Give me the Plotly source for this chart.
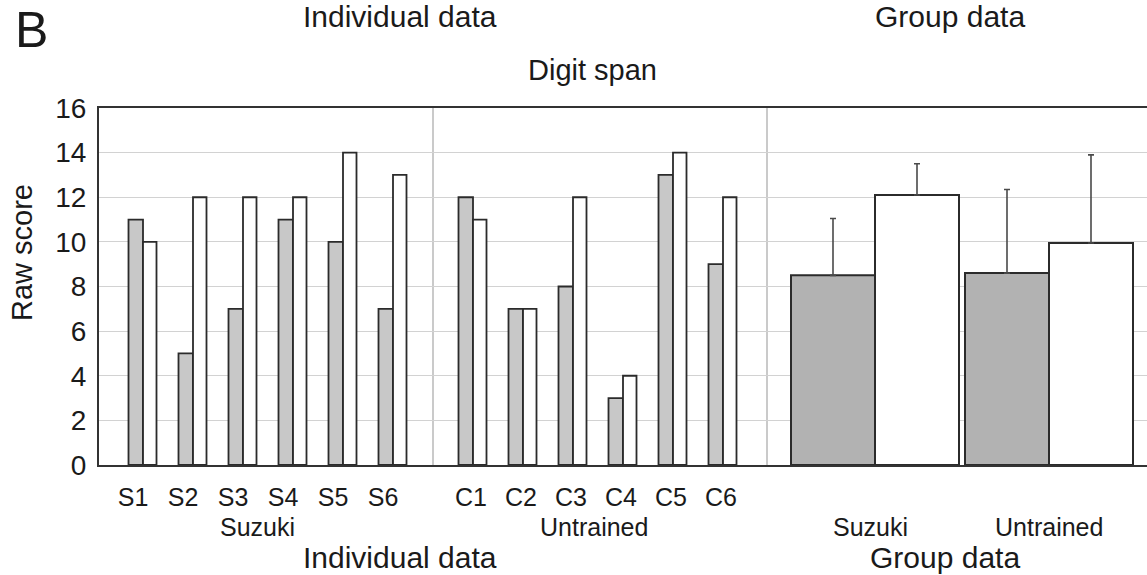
import plotly.graph_objects as go

# ---------------- data ----------------
suzuki_ids = ["S1", "S2", "S3", "S4", "S5", "S6"]
suzuki_pre = [11, 5, 7, 11, 10, 7]
suzuki_post = [10, 12, 12, 12, 14, 13]

untrained_ids = ["C1", "C2", "C3", "C4", "C5", "C6"]
untrained_pre = [12, 7, 8, 3, 13, 9]
untrained_post = [11, 7, 12, 4, 14, 12]

group_names = ["Suzuki", "Untrained"]
group_pre_mean = [8.5, 8.6]
group_pre_err = [2.55, 3.75]
group_post_mean = [12.1, 9.95]
group_post_err = [1.4, 3.95]

y_ticks = [0, 2, 4, 6, 8, 10, 12, 14, 16]

# ---------------- layout helpers ----------------
W, H = 1147, 575
L, T, B = 99, 108, 110
PW = W - L
PH = H - T - B
UNIT = 50.0                     # px per x unit
X0 = 0.12
X1 = X0 + PW / UNIT

def px_paper(px, py):
    return (px - L) / PW, (H - B - py) / PH

s_centers = [1 + i for i in range(len(suzuki_ids))]
c_centers = [7.6 + i for i in range(len(untrained_ids))]
sep1, sep2 = 6.8, 13.48
g_bounds = [15.64, 19.12]
gw = 1.68
iw_pre, iw_post = 0.29, 0.27

GRAY_I = "#c8c8c8"
GRAY_G = "#b2b2b2"
EDGE = "#2b2b2b"
FONT = "Liberation Sans, Arial, sans-serif"

fig = go.Figure()

# individual bars
for centers, pre, post in [(s_centers, suzuki_pre, suzuki_post),
                           (c_centers, untrained_pre, untrained_post)]:
    fig.add_trace(go.Bar(x=[c - iw_pre / 2 for c in centers], y=pre, width=iw_pre,
                         marker=dict(color=GRAY_I, line=dict(color=EDGE, width=1.8)),
                         showlegend=False, hoverinfo="skip"))
    fig.add_trace(go.Bar(x=[c + iw_post / 2 for c in centers], y=post, width=iw_post,
                         marker=dict(color="white", line=dict(color=EDGE, width=1.8)),
                         showlegend=False, hoverinfo="skip"))

# group bars with upward error bars
fig.add_trace(go.Bar(x=[b - gw / 2 for b in g_bounds], y=group_pre_mean, width=gw,
                     marker=dict(color=GRAY_G, line=dict(color=EDGE, width=2)),
                     error_y=dict(type="data", array=group_pre_err, arrayminus=[0, 0],
                                  symmetric=False, color="#4a4a4a", thickness=1.6, width=3),
                     showlegend=False, hoverinfo="skip"))
fig.add_trace(go.Bar(x=[b + gw / 2 for b in g_bounds], y=group_post_mean, width=gw,
                     marker=dict(color="white", line=dict(color=EDGE, width=2)),
                     error_y=dict(type="data", array=group_post_err, arrayminus=[0, 0],
                                  symmetric=False, color="#4a4a4a", thickness=1.6, width=3),
                     showlegend=False, hoverinfo="skip"))

# section separators
for sx in (sep1, sep2):
    fig.add_shape(type="line", x0=sx, x1=sx, y0=0, y1=16, xref="x", yref="y",
                  line=dict(color="#b8b8b8", width=1.5), layer="below")

annotations = []

def add_text(text, px, py, size, yanchor="middle", **kw):
    xp, yp = px_paper(px, py)
    annotations.append(dict(text=text, x=xp, y=yp, xref="paper", yref="paper",
                            xanchor="center", yanchor=yanchor, showarrow=False,
                            font=dict(family=FONT, size=size, color="#1a1a1a"), **kw))

add_text("B", 31, 30, 50)
add_text("Individual data", 400, -2, 30, yanchor="top")
add_text("Group data", 950, -2, 30, yanchor="top")
add_text("Digit span", 592, 70, 29)
add_text("Raw score", 22, 253, 29, textangle=-90)
add_text("Suzuki", 257, 527, 25)
add_text("Untrained", 594, 527, 25)
add_text("Suzuki", 870, 527, 25)
add_text("Untrained", 1049, 527, 25)
add_text("Individual data", 400, 576, 30, yanchor="bottom")
add_text("Group data", 945, 576, 30, yanchor="bottom")

tickvals = [c - 0.2 for c in s_centers] + [c - 0.04 for c in c_centers]
ticktext = suzuki_ids + untrained_ids

fig.update_layout(
    width=W, height=H,
    margin=dict(l=L, r=0, t=T, b=B, pad=0),
    paper_bgcolor="white", plot_bgcolor="white",
    barmode="overlay",
    annotations=annotations,
    xaxis=dict(range=[X0, X1], showgrid=False, zeroline=False,
               showline=True, linecolor="#333333", linewidth=2, mirror=True,
               tickmode="array", tickvals=tickvals, ticktext=ticktext, ticks="",
               tickfont=dict(family=FONT, size=25, color="#1a1a1a"),
               ticklabelstandoff=9),
    yaxis=dict(range=[0, 16], tickmode="array", tickvals=y_ticks,
               showgrid=True, gridcolor="#d2d2d2", gridwidth=1, zeroline=False,
               showline=True, linecolor="#333333", linewidth=2, mirror=False,
               ticks="", ticklabelstandoff=5,
               tickfont=dict(family=FONT, size=28, color="#1a1a1a")),
)

fig.write_html("out.html",
               config={"displayModeBar": False},
               post_script="document.body.style.margin='0px';document.body.style.overflow='hidden';")
